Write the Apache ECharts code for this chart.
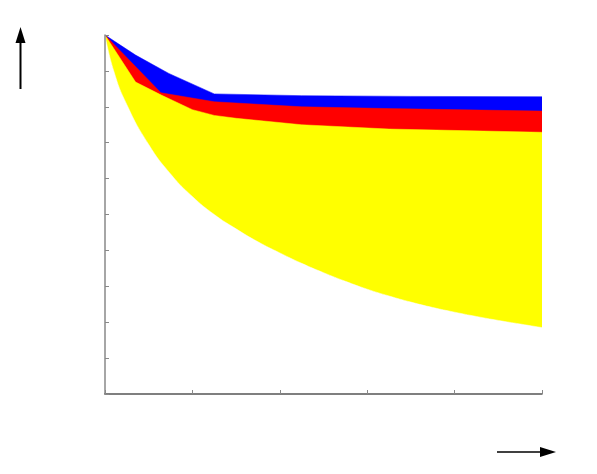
<!DOCTYPE html>
<html>
<head>
<meta charset="utf-8">
<script src="https://cdn.jsdelivr.net/npm/echarts@6/dist/echarts.min.js"></script>
<style>
  html, body { margin: 0; padding: 0; background: #fff; }
  #chart { width: 597px; height: 474px; }
</style>
</head>
<body>
<div id="chart"></div>
<script>
// upper edges of the three bands and the lower edge of the yellow band
var blueX = [0, 0.35, 0.73, 1.25, 2.25, 3.5, 5];
var blueY = [10, 9.44, 8.93, 8.36, 8.31, 8.29, 8.28];

var redX = [0, 0.64, 1.25, 2.25, 3.25, 5];
var redY = [10, 8.39, 8.14, 8.0, 7.95, 7.88];

var yellowTopX = [0, 0.35, 0.65, 1.0, 1.25, 1.5, 2.25, 3.25, 5];
var yellowTopY = [10, 8.69, 8.32, 7.92, 7.76, 7.68, 7.5, 7.38, 7.29];

var yellowBottomX = [0, 0.1, 0.25, 0.5, 0.75, 1, 1.25, 1.5, 1.75, 2, 2.25, 2.5, 2.75, 3, 3.25, 3.5, 3.75, 4, 4.25, 4.5, 4.75, 5];
var yellowBottomY = [10, 9.0, 8.06, 6.95, 6.13, 5.5, 5.0, 4.6, 4.24, 3.93, 3.64, 3.38, 3.14, 2.92, 2.73, 2.56, 2.41, 2.28, 2.16, 2.05, 1.95, 1.85];

function pairs(xs, ys) {
    return xs.map(function (x, i) { return [x, ys[i]]; });
}

function band(data, color, smooth) {
    return {
        type: 'line',
        data: data,
        symbol: 'none',
        smooth: smooth || false,
        silent: true,
        animation: false,
        lineStyle: { width: 0.5, color: color },
        areaStyle: { color: color, opacity: 1 }
    };
}

var myChart = echarts.init(document.getElementById('chart'));

var option = {
    backgroundColor: '#fff',
    grid: { left: 105, right: 55, top: 35, bottom: 80 },
    xAxis: {
        type: 'value',
        min: 0,
        max: 5,
        interval: 1,
        z: 10,
        axisLine: { lineStyle: { color: '#555', width: 1.5 } },
        axisTick: { inside: true, length: 4, lineStyle: { color: '#888' } },
        axisLabel: { show: false },
        splitLine: { show: false }
    },
    yAxis: {
        type: 'value',
        min: 0,
        max: 10,
        interval: 1,
        z: 10,
        axisLine: { show: true, lineStyle: { color: '#888', width: 1.5 } },
        axisTick: { show: true, inside: true, length: 4, lineStyle: { color: '#888' } },
        axisLabel: { show: false },
        splitLine: { show: false }
    },
    series: [
        band(pairs(blueX, blueY), '#0000ff'),
        band(pairs(redX, redY), '#ff0000'),
        band(pairs(yellowTopX, yellowTopY), '#ffff00'),
        band(pairs(yellowBottomX, yellowBottomY), '#ffffff', 0.5)
    ],
    graphic: [
        // up arrow, top left
        { type: 'line', shape: { x1: 20.5, y1: 89, x2: 20.5, y2: 40 }, style: { stroke: '#000', lineWidth: 2 } },
        { type: 'polygon', shape: { points: [[20.5, 27], [15.5, 43], [25.5, 43]] }, style: { fill: '#000' } },
        // right arrow, bottom right
        { type: 'line', shape: { x1: 497, y1: 452, x2: 542, y2: 452 }, style: { stroke: '#000', lineWidth: 1.5 } },
        { type: 'polygon', shape: { points: [[556, 452], [540, 447], [540, 457]] }, style: { fill: '#000' } }
    ]
};

myChart.setOption(option);
</script>
</body>
</html>
